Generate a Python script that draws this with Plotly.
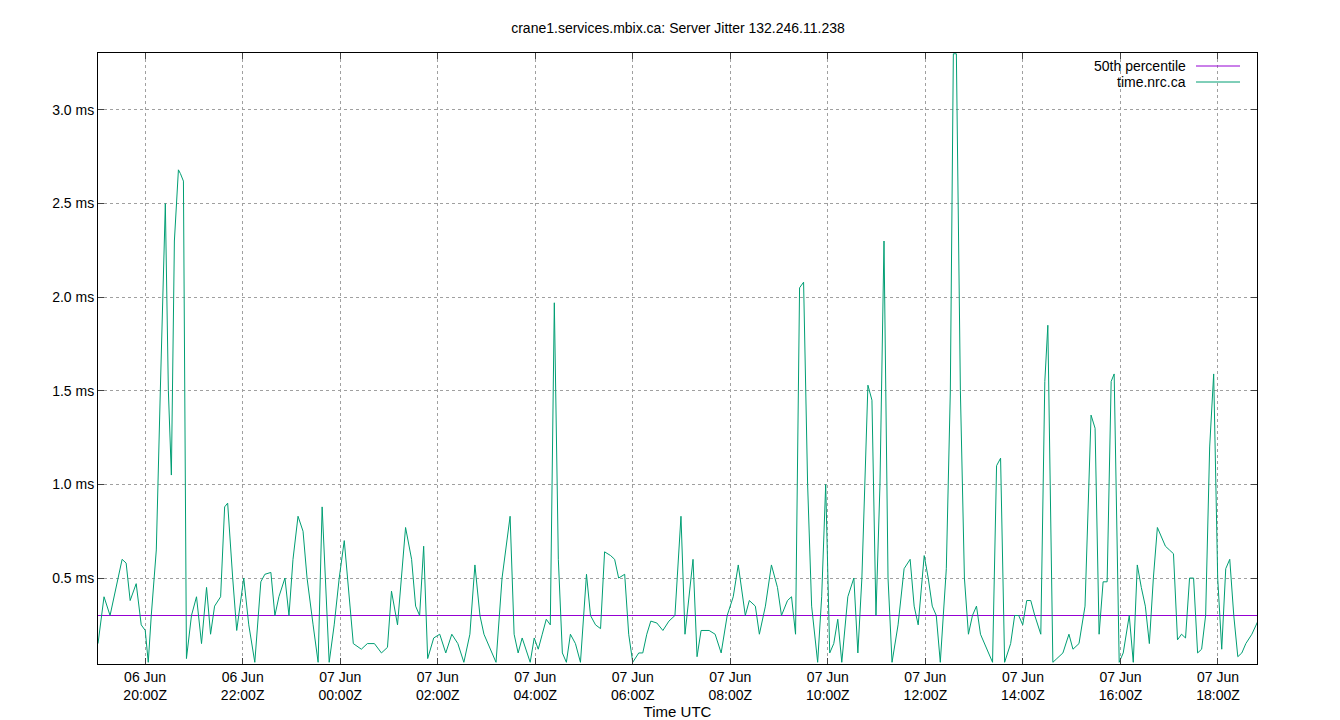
import numpy as np, pandas as pd
import plotly.graph_objects as go

# sample positions (in ~74 s units from the left edge of the record) and jitter values (ms)
sample_pos = [90,96,102,108,114,118,122,128,133,137,140,143,148,152,157,160,163,166,170,172,175,178,183,188,193,198,202,206,212,216,219,224,228,235,240,246,252,256,262,266,270,276,280,284,289,294,298,304,309,313,317,320,325,330,335,340,344,352,358,365,372,378,382,388,396,402,406,410,414,418,424,430,436,442,448,454,460,465,470,474,480,486,492,500,504,508,512,516,520,524,528,532,536,540,544,548,552,556,560,565,570,576,580,585,590,594,600,604,608,614,618,622,628,632,636,640,646,652,658,664,670,674,678,682,686,690,698,704,710,716,722,727,734,738,744,748,754,760,766,770,776,780,784,788,792,796,800,806,810,814,818,822,826,830,836,842,846,850,856,860,864,868,872,876,880,886,892,898,902,906,912,916,920,924,928,934,938,941,944,948,952,956,960,964,968,972,976,980,984,988,992,998,1002,1006,1010,1014,1018,1022,1028,1032,1035,1040,1044,1050,1056,1060,1066,1072,1078,1082,1086,1090,1094,1098,1101,1106,1110,1116,1120,1124,1128,1132,1136,1140,1144,1148,1152,1156,1160,1164,1168,1172,1176,1180,1184,1188,1192,1196,1200,1204,1208,1212,1216,1220,1224,1228,1232,1238,1244,1249]
jitter = [0.15,0.4,0.3,0.45,0.6,0.58,0.38,0.47,0.25,0.22,0.05,0.3,0.65,1.5,2.5,1.5,1.05,2.3,2.68,2.66,2.62,0.07,0.3,0.4,0.15,0.45,0.2,0.35,0.4,0.88,0.9,0.5,0.22,0.5,0.25,0.05,0.48,0.52,0.53,0.3,0.4,0.5,0.3,0.6,0.83,0.75,0.5,0.25,0.05,0.88,0.4,0.05,0.25,0.5,0.7,0.4,0.15,0.12,0.15,0.15,0.1,0.13,0.43,0.25,0.77,0.6,0.35,0.3,0.67,0.07,0.18,0.2,0.1,0.2,0.15,0.05,0.2,0.57,0.3,0.2,0.12,0.05,0.5,0.83,0.2,0.1,0.18,0.12,0.05,0.18,0.12,0.2,0.28,0.25,1.97,0.6,0.1,0.05,0.2,0.15,0.05,0.52,0.3,0.25,0.23,0.64,0.62,0.6,0.5,0.52,0.2,0.05,0.1,0.1,0.2,0.27,0.26,0.22,0.27,0.3,0.83,0.2,0.4,0.6,0.08,0.22,0.22,0.2,0.1,0.3,0.4,0.57,0.3,0.38,0.35,0.2,0.35,0.57,0.45,0.3,0.38,0.4,0.2,2.05,2.08,1.0,0.35,0.05,0.4,1.0,0.1,0.15,0.28,0.05,0.4,0.5,0.1,0.5,1.53,1.45,0.3,1.0,2.3,0.5,0.05,0.25,0.55,0.6,0.35,0.25,0.62,0.5,0.35,0.3,0.05,0.55,1.5,3.3,3.3,1.5,0.5,0.2,0.3,0.35,0.2,0.15,0.1,0.05,1.1,1.14,0.05,0.15,0.3,0.3,0.25,0.38,0.38,0.3,0.2,1.55,1.85,0.05,0.07,0.1,0.2,0.12,0.15,0.35,1.37,1.3,0.2,0.48,0.48,1.55,1.59,0.05,0.1,0.3,0.05,0.57,0.45,0.35,0.15,0.5,0.77,0.72,0.67,0.65,0.63,0.17,0.2,0.18,0.5,0.5,0.1,0.12,0.3,1.2,1.59,0.5,0.12,0.55,0.6,0.3,0.08,0.1,0.15,0.2,0.27,0.22]
median = 0.3
tick_times = ["2024-06-06 20:00","2024-06-06 22:00","2024-06-07 00:00","2024-06-07 02:00","2024-06-07 04:00","2024-06-07 06:00","2024-06-07 08:00","2024-06-07 10:00","2024-06-07 12:00","2024-06-07 14:00","2024-06-07 16:00","2024-06-07 18:00"]
tick_text = ["06 Jun<br>20:00Z","06 Jun<br>22:00Z","07 Jun<br>00:00Z","07 Jun<br>02:00Z","07 Jun<br>04:00Z","07 Jun<br>06:00Z","07 Jun<br>08:00Z","07 Jun<br>10:00Z","07 Jun<br>12:00Z","07 Jun<br>14:00Z","07 Jun<br>16:00Z","07 Jun<br>18:00Z"]

start = pd.Timestamp("2024-06-06 19:02")
end = pd.Timestamp("2024-06-07 18:48")
times = [start + pd.Timedelta(seconds=(p-90)*74.2) for p in sample_pos]

fig = go.Figure()
fig.add_trace(go.Scatter(x=[start, end], y=[median, median], mode="lines",
                         line=dict(color="#9400d3", width=1), name="50th percentile"))
fig.add_trace(go.Scatter(x=times, y=jitter, mode="lines",
                         line=dict(color="#009e73", width=1), name="time.nrc.ca"))

font = dict(family="Liberation Sans, Arial", size=14, color="black")
fig.update_layout(
    width=1340, height=720, margin=dict(l=90, r=91, t=45, b=64),
    paper_bgcolor="white", plot_bgcolor="white", showlegend=False, font=font,
    title=dict(text="crane1.services.mbix.ca: Server Jitter 132.246.11.238", x=0.5, xanchor="center",
               y=0.972, yanchor="middle", font=font),
    xaxis=dict(range=[start, end], tickvals=tick_times, ticktext=tick_text, ticks="inside",
               ticklen=6, showline=True, mirror="ticks", linecolor="black", showgrid=True,
               gridcolor="#a0a0a0", griddash="dot", gridwidth=1, zeroline=False, automargin=False,
               title=dict(text="Time UTC", standoff=2, font=dict(size=15))),
    yaxis=dict(range=[0.041, 3.304], tickvals=[0.5,1.0,1.5,2.0,2.5,3.0],
               ticktext=["0.5 ms","1.0 ms","1.5 ms","2.0 ms","2.5 ms","3.0 ms"], ticks="inside",
               ticklen=6, showline=True, mirror="ticks", linecolor="black", showgrid=True,
               gridcolor="#a0a0a0", griddash="dot", gridwidth=1, zeroline=False, automargin=False),
)
legend = [("50th percentile", "#9400d3", 58), ("time.nrc.ca", "#009e73", 74)]
for name, col, py in legend:
    fig.add_annotation(text=name, xref="paper", yref="paper", x=(1180-90)/1159, y=(656-py)/611,
                       xanchor="right", yanchor="middle", showarrow=False, font=font)
    fig.add_shape(type="line", xref="paper", yref="paper", x0=(1188-90)/1159, x1=(1232-90)/1159,
                  y0=(656-py)/611, y1=(656-py)/611, line=dict(color=col, width=1))
fig.write_html("out.html")
